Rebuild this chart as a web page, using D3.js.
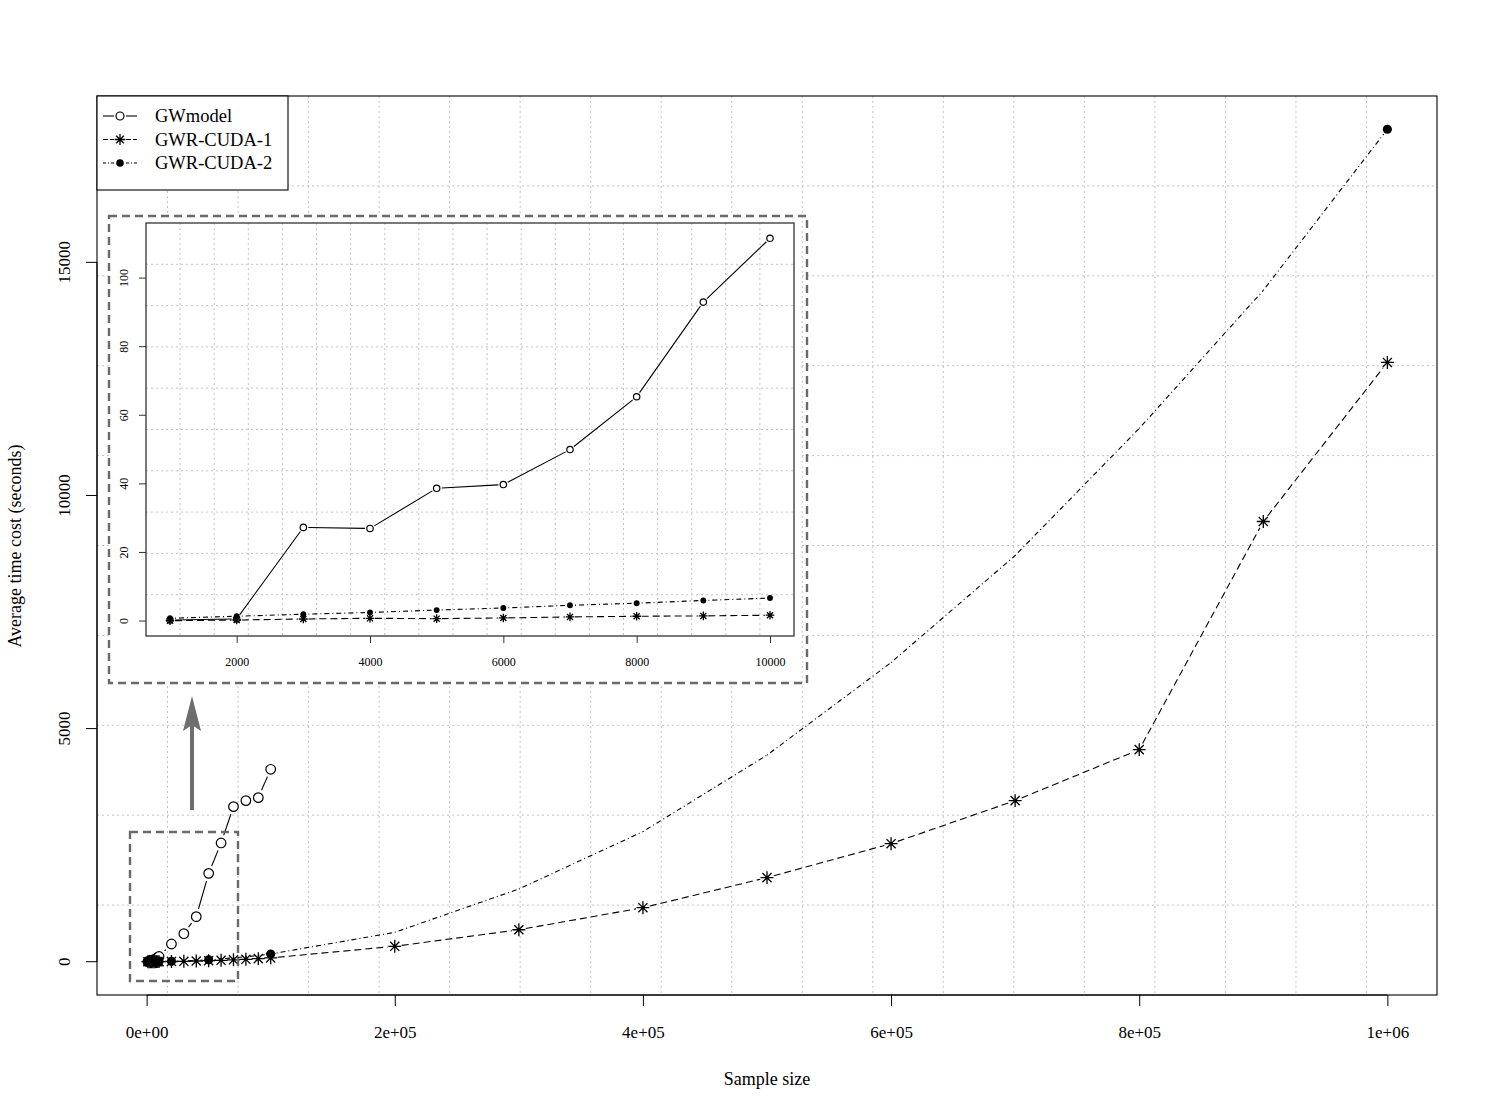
<!DOCTYPE html>
<html>
<head>
<meta charset="utf-8">
<script src="https://cdn.jsdelivr.net/npm/d3@7"></script>
<style>
  html, body { margin: 0; padding: 0; background: #fff; }
  svg { display: block; font-family: "Liberation Serif", "Times New Roman", serif; }
</style>
</head>
<body>
<svg id="chart" width="1487" height="1116"></svg>
<script>
// ---------------- data ----------------
const seriesNames = ["GWmodel", "GWR-CUDA-1", "GWR-CUDA-2"];

// small samples (inset)
const smallSizes = [1000, 2000, 3000, 4000, 5000, 6000, 7000, 8000, 9000, 10000];
const gwmodelSmall = [0.3, 0.6, 27.3, 27.0, 38.7, 39.8, 50.0, 65.4, 93.0, 111.6];
const cuda1Small   = [0.1, 0.3, 0.6, 0.8, 0.7, 0.9, 1.2, 1.4, 1.5, 1.7];
const cuda2Small   = [0.8, 1.4, 2.0, 2.5, 3.2, 3.8, 4.6, 5.2, 6.0, 6.7];

// medium samples
const midSizes   = [20000, 30000, 40000, 50000, 60000, 70000, 80000, 90000, 100000];
const gwmodelMid = [380, 601, 966, 1895, 2547, 3326, 3455, 3519, 4127];
const cuda1Mid   = [4, 9, 15, 22, 30, 40, 52, 66, 82];
const cuda2Mid   = [8, 17, 28, 42, 60, 82, 106, 134, 165];

// large samples
const largeSizes = [200000, 300000, 400000, 500000, 600000, 700000, 800000, 900000, 1000000];
const cuda1Large = [330, 685, 1159, 1803, 2532, 3455, 4549, 9442, 12854];
const cuda2Large = [630, 1560, 2790, 4430, 6416, 8712, 11438, 14399, 17854];

// sample sizes where GWR-CUDA-2 markers are drawn in the main panel
const cuda2Marked = [1000, 2000, 3000, 4000, 5000, 6000, 7000, 8000, 9000, 10000, 20000, 50000, 100000, 1000000];

// tick values / labels
const mainXTicks  = [0, 200000, 400000, 600000, 800000, 1000000];
const mainXLabels = ["0e+00", "2e+05", "4e+05", "6e+05", "8e+05", "1e+06"];
const mainYTicks  = [0, 5000, 10000, 15000];
const insetXTicks = [2000, 4000, 6000, 8000, 10000];
const insetYTicks = [0, 20, 40, 60, 80, 100];

// ---------------- helpers ----------------
const svg = d3.select("#chart");
const zip = (xs, ys) => xs.map((x, i) => ({x, y: ys[i]}));
function rExpand([a, b]) { const d = (b - a) * 0.04; return [a - d, b + d]; }

const mainData = {
  gw:  zip(smallSizes.concat(midSizes), gwmodelSmall.concat(gwmodelMid)),
  c1:  zip(smallSizes.concat(midSizes, largeSizes), cuda1Small.concat(cuda1Mid, cuda1Large)),
  c2:  zip(smallSizes.concat(midSizes, largeSizes), cuda2Small.concat(cuda2Mid, cuda2Large))
};
const insetData = {
  gw: zip(smallSizes, gwmodelSmall),
  c1: zip(smallSizes, cuda1Small),
  c2: zip(smallSizes, cuda2Small)
};

// draw R "type b" style line: segments with gaps at marked points
function gappedLine(g, pts, x, y, gap, dash, markedFn) {
  for (let i = 0; i < pts.length - 1; i++) {
    let x1 = x(pts[i].x), y1 = y(pts[i].y), x2 = x(pts[i+1].x), y2 = y(pts[i+1].y);
    const len = Math.hypot(x2 - x1, y2 - y1);
    const g1 = markedFn(pts[i]) ? gap : 0, g2 = markedFn(pts[i+1]) ? gap : 0;
    if (len <= g1 + g2 + 0.5) continue;
    const ux = (x2 - x1) / len, uy = (y2 - y1) / len;
    g.append("line")
      .attr("x1", x1 + ux * g1).attr("y1", y1 + uy * g1)
      .attr("x2", x2 - ux * g2).attr("y2", y2 - uy * g2)
      .attr("stroke", "#000").attr("stroke-width", 1.1)
      .attr("stroke-dasharray", dash);
  }
}
function drawMarker(g, type, cx, cy, s) {
  if (type === "circle") {
    g.append("circle").attr("cx", cx).attr("cy", cy).attr("r", s)
      .attr("fill", "#fff").attr("stroke", "#000").attr("stroke-width", 1.2);
  } else if (type === "dot") {
    g.append("circle").attr("cx", cx).attr("cy", cy).attr("r", s * 0.95).attr("fill", "#000");
  } else {
    const a = s * 1.35, b = s * 0.95;
    const p = `M${cx - a},${cy}L${cx + a},${cy}M${cx},${cy - a}L${cx},${cy + a}` +
              `M${cx - b},${cy - b}L${cx + b},${cy + b}M${cx - b},${cy + b}L${cx + b},${cy - b}`;
    g.append("path").attr("d", p).attr("stroke", "#000").attr("stroke-width", 1.3).attr("fill", "none");
  }
}
function gridLines(g, x0, x1, y0, y1, nx, ny) {
  for (let i = 1; i < nx; i++) {
    const xx = x0 + (x1 - x0) * i / nx;
    g.append("line").attr("x1", xx).attr("x2", xx).attr("y1", y0).attr("y2", y1)
      .attr("stroke", "#c4c4c4").attr("stroke-width", 1).attr("stroke-dasharray", "2,3");
  }
  for (let j = 1; j < ny; j++) {
    const yy = y0 + (y1 - y0) * j / ny;
    g.append("line").attr("x1", x0).attr("x2", x1).attr("y1", yy).attr("y2", yy)
      .attr("stroke", "#c4c4c4").attr("stroke-width", 1).attr("stroke-dasharray", "2,3");
  }
}

const DASH = { gw: null, c1: "7,4", c2: "1,3,5,3" };

// ---------------- main panel ----------------
const M = { left: 97, right: 1437, top: 96, bottom: 995 };
const allY = [].concat(gwmodelSmall, gwmodelMid, cuda1Small, cuda1Mid, cuda1Large, cuda2Small, cuda2Mid, cuda2Large);
const x = d3.scaleLinear().domain(rExpand([0, 1000000])).range([M.left, M.right]);
const y = d3.scaleLinear().domain(rExpand([0, d3.max(allY)])).range([M.bottom, M.top]);

const main = svg.append("g");
gridLines(main, M.left, M.right, M.top, M.bottom, 19, 10);

// axes
const xAxis = main.append("g").attr("transform", `translate(0,${M.bottom})`)
  .call(d3.axisBottom(x).tickValues(mainXTicks).tickFormat((d, i) => mainXLabels[i]).tickSize(11).tickSizeOuter(0));
xAxis.select(".domain").attr("d", `M${x(0)},0H${x(1000000)}`);
xAxis.selectAll("text").attr("font-size", 17).attr("font-family", "Liberation Serif").attr("y", 0).attr("dy", null)
  .attr("transform", "translate(0,43)");
const yAxis = main.append("g").attr("transform", `translate(${M.left},0)`)
  .call(d3.axisLeft(y).tickValues(mainYTicks).tickFormat(d3.format("d")).tickSize(11).tickSizeOuter(0));
yAxis.select(".domain").attr("d", `M0,${y(0)}V${y(15000)}`);
yAxis.selectAll("text").attr("font-size", 17).attr("font-family", "Liberation Serif")
  .attr("text-anchor", "middle").attr("x", null).attr("dy", null)
  .attr("transform", function(d) { return `translate(-27,${y(d)}) rotate(-90)`; })
  .attr("y", 0);
yAxis.selectAll(".tick").attr("transform", "translate(0,0)");
yAxis.selectAll(".tick line").attr("y1", d => y(d)).attr("y2", d => y(d));
main.selectAll(".tick line, .domain").attr("stroke", "#000");

main.append("rect").attr("x", M.left).attr("y", M.top).attr("width", M.right - M.left)
  .attr("height", M.bottom - M.top).attr("fill", "none").attr("stroke", "#000").attr("stroke-width", 1.1);

// lines
gappedLine(main, mainData.gw, x, y, 8, DASH.gw, () => true);
gappedLine(main, mainData.c1, x, y, 7, DASH.c1, () => true);
gappedLine(main, mainData.c2, x, y, 6, DASH.c2, p => cuda2Marked.includes(p.x));
mainData.gw.forEach(p => drawMarker(main, "circle", x(p.x), y(p.y), 4.8));
mainData.c2.filter(p => cuda2Marked.includes(p.x)).forEach(p => drawMarker(main, "dot", x(p.x), y(p.y), 4.8));
mainData.c1.forEach(p => drawMarker(main, "star", x(p.x), y(p.y), 4.8));

// axis titles
svg.append("text").attr("x", 767).attr("y", 1085).attr("text-anchor", "middle")
  .attr("font-size", 18).text("Sample size");
svg.append("text").attr("transform", "translate(21,546) rotate(-90)").attr("text-anchor", "middle")
  .attr("font-size", 18).text("Average time cost (seconds)");

// zoom box in main panel + arrow
svg.append("rect").attr("x", 130).attr("y", 832).attr("width", 108).attr("height", 149)
  .attr("fill", "none").attr("stroke", "#6a6a6a").attr("stroke-width", 2.4).attr("stroke-dasharray", "8,5");
svg.append("rect").attr("x", 190).attr("y", 724).attr("width", 4).attr("height", 86).attr("fill", "#6e6e6e");
svg.append("path").attr("d", "M192,696L201,731L192,725L183,731Z").attr("fill", "#6e6e6e");

// legend
const lg = svg.append("g");
lg.append("rect").attr("x", M.left).attr("y", M.top).attr("width", 191).attr("height", 94)
  .attr("fill", "#fff").attr("stroke", "#000").attr("stroke-width", 1.1);
const legTypes = ["circle", "star", "dot"];
seriesNames.forEach((name, i) => {
  const yy = 116 + i * 23.5;
  [[103, 114], [126, 137]].forEach(([a, b]) =>
    lg.append("line").attr("x1", a).attr("x2", b).attr("y1", yy).attr("y2", yy)
      .attr("stroke", "#000").attr("stroke-width", 1.1).attr("stroke-dasharray", i === 2 ? "3,2,1,2" : (i === 1 ? "5,2" : null)));
  drawMarker(lg, legTypes[i], 120, yy, 4);
  lg.append("text").attr("x", 155).attr("y", yy + 6).attr("font-size", 18.5).text(name);
});

// ---------------- inset ----------------
const I = { left: 146, right: 794, top: 223, bottom: 636 };
const allInsetY = [].concat(gwmodelSmall, cuda1Small, cuda2Small);
const xi = d3.scaleLinear().domain(rExpand(d3.extent(smallSizes))).range([I.left, I.right]);
const yi = d3.scaleLinear().domain(rExpand(d3.extent(allInsetY))).range([I.bottom, I.top]);

const inset = svg.append("g");
inset.append("rect").attr("x", 109).attr("y", 216).attr("width", 690).attr("height", 467).attr("fill", "#fff");
gridLines(inset, I.left, I.right, I.top, I.bottom, 19, 10);

const xiAxis = inset.append("g").attr("transform", `translate(0,${I.bottom})`)
  .call(d3.axisBottom(xi).tickValues(insetXTicks).tickFormat(d3.format("d")).tickSize(7).tickSizeOuter(0));
xiAxis.select(".domain").remove();
xiAxis.selectAll("text").attr("font-size", 12).attr("font-family", "Liberation Serif").attr("y", 0).attr("dy", null)
  .attr("transform", "translate(0,30)");
const yiAxis = inset.append("g").attr("transform", `translate(${I.left},0)`)
  .call(d3.axisLeft(yi).tickValues(insetYTicks).tickFormat(d3.format("d")).tickSize(7).tickSizeOuter(0));
yiAxis.select(".domain").remove();
yiAxis.selectAll(".tick").attr("transform", "translate(0,0)");
yiAxis.selectAll(".tick line").attr("y1", d => yi(d)).attr("y2", d => yi(d));
yiAxis.selectAll("text").attr("font-size", 12).attr("font-family", "Liberation Serif")
  .attr("text-anchor", "middle").attr("x", null).attr("dy", null).attr("y", 0)
  .attr("transform", d => `translate(-18,${yi(d)}) rotate(-90)`);
inset.selectAll(".tick line").attr("stroke", "#333");

inset.append("rect").attr("x", I.left).attr("y", I.top).attr("width", I.right - I.left)
  .attr("height", I.bottom - I.top).attr("fill", "none").attr("stroke", "#222").attr("stroke-width", 1.2);

gappedLine(inset, insetData.gw, xi, yi, 5, DASH.gw, () => true);
gappedLine(inset, insetData.c1, xi, yi, 5, DASH.c1, () => true);
gappedLine(inset, insetData.c2, xi, yi, 5, DASH.c2, () => true);
insetData.gw.forEach(p => drawMarker(inset, "circle", xi(p.x), yi(p.y), 3.2));
insetData.c2.forEach(p => drawMarker(inset, "dot", xi(p.x), yi(p.y), 3.1));
insetData.c1.forEach(p => drawMarker(inset, "star", xi(p.x), yi(p.y), 3.2));

// inset dashed frame
inset.append("rect").attr("x", 109).attr("y", 216).attr("width", 698).attr("height", 467)
  .attr("fill", "none").attr("stroke", "#6a6a6a").attr("stroke-width", 2.4).attr("stroke-dasharray", "8,5");
</script>
</body>
</html>
